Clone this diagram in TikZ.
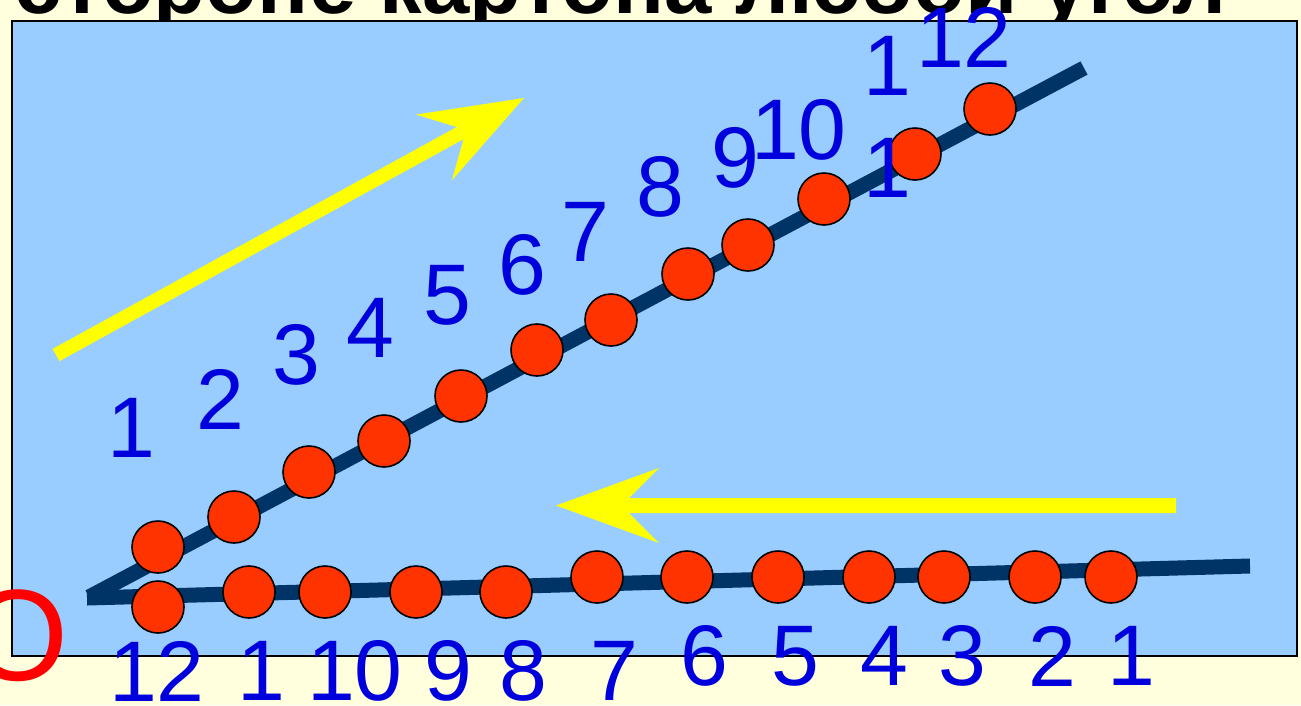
\documentclass[tikz,border=0pt]{standalone}
\usepackage{fontspec}
\setmainfont{Liberation Sans}
\newfontfamily\arialfont{Liberation Sans}
\definecolor{bgcream}{HTML}{FFFFDD}
\definecolor{boardblue}{HTML}{99CCFF}
\definecolor{navy}{HTML}{003366}
\definecolor{dotred}{HTML}{FF3300}
\definecolor{numblue}{HTML}{0000DD}
\definecolor{arrowyellow}{HTML}{FFFF00}
\definecolor{ored}{HTML}{FF0000}
\tikzset{
  dot/.style={circle, fill=dotred, draw=black, line width=1.6pt, minimum size=52pt, inner sep=0pt},
  num/.style={text=numblue, font=\arialfont\fontsize{86}{86}\selectfont, inner sep=0pt},
  navyline/.style={draw=navy, line width=15pt},
  yarrow/.style={fill=arrowyellow},
  title/.style={font=\arialfont\bfseries\fontsize{85}{85}\selectfont, inner sep=0pt, anchor=base west, text=black}
}
\begin{document}
\begin{tikzpicture}[x=1pt,y=-1pt]
\useasboundingbox (0,0) rectangle (1301,705);
\fill[bgcream] (0,0) rectangle (1301,705);
\node[title] (title) at (14,13) {стороне картона любой угол};
\draw[fill=boardblue, draw=black, line width=2pt] (11.5,21) rectangle (1296.5,656);
% sides of the angle
\coordinate (vu) at (89,597);
\coordinate (vl) at (87,598);
\coordinate (ue) at (1084,68);
\coordinate (le) at (1250,566);
\draw[navyline] (vu) -- (ue);
\draw[navyline] (vl) -- (le);
% upper dots
\node[dot] (u1) at (158,547) {};
\node[dot] (u2) at (234,517) {};
\node[dot] (u3) at (309,472) {};
\node[dot] (u4) at (384,441) {};
\node[dot] (u5) at (461,396) {};
\node[dot] (u6) at (537,350) {};
\node[dot] (u7) at (611,320) {};
\node[dot] (u8) at (688,274) {};
\node[dot] (u9) at (748,245) {};
\node[dot] (u10) at (824,199) {};
\node[dot] (u11) at (915,154) {};
\node[dot] (u12) at (990,109) {};
% lower dots
\node[dot] (l12) at (158,607) {};
\node[dot] (l11) at (249,592) {};
\node[dot] (l10) at (325,592) {};
\node[dot] (l9) at (416,592) {};
\node[dot] (l8) at (506,592) {};
\node[dot] (l7) at (597,577) {};
\node[dot] (l6) at (687,577) {};
\node[dot] (l5) at (778,577) {};
\node[dot] (l4) at (869,577) {};
\node[dot] (l3) at (944,577) {};
\node[dot] (l2) at (1035,577) {};
\node[dot] (l1) at (1111,577) {};
% upper numbers
\node[num] (nu1) at (131,428) {1};
\node[num] (nu2) at (220,399) {2};
\node[num] (nu3) at (296,355) {3};
\node[num] (nu4) at (370,328) {4};
\node[num] (nu5) at (447,295) {5};
\node[num] (nu6) at (522,265) {6};
\node[num] (nu7) at (585,232) {7};
\node[num] (nu8) at (660,187) {8};
\node[num] (nu9) at (735,158) {9};
\node[num] (nu10) at (799,130) {10};
\node[num] (nu11a) at (887,66) {1};
\node[num] (nu11b) at (887,168) {1};
\node[num] (nu12) at (964,37) {12};
% lower numbers
\node[num] (nl12) at (157,671) {12};
\node[num] (nl11) at (261,671) {1};
\node[num] (nl10) at (355,671) {10};
\node[num] (nl9) at (448,671) {9};
\node[num] (nl8) at (523,671) {8};
\node[num] (nl7) at (614,671) {7};
\node[num] (nl6) at (704,656) {6};
\node[num] (nl5) at (795,656) {5};
\node[num] (nl4) at (884,656) {4};
\node[num] (nl3) at (962,656) {3};
\node[num] (nl2) at (1052,656) {2};
\node[num] (nl1) at (1131,656) {1};
% yellow arrows
\fill[yarrow] (52.6,348.9) -- (456.7,127.0) -- (415.8,114.6) -- (524,98)
  -- (451.8,180.4) -- (463.5,139.2) -- (59.4,361.1) -- cycle;
\fill[yarrow] (1176,498) -- (629,498) -- (659,468) -- (556,505.5)
  -- (659,543) -- (629,513) -- (1176,513) -- cycle;
% vertex label
\node[text=ored, font=\arialfont\fontsize{130}{130}\selectfont, inner sep=0pt] (O) at (18,636) {O};
\end{tikzpicture}
\end{document}
